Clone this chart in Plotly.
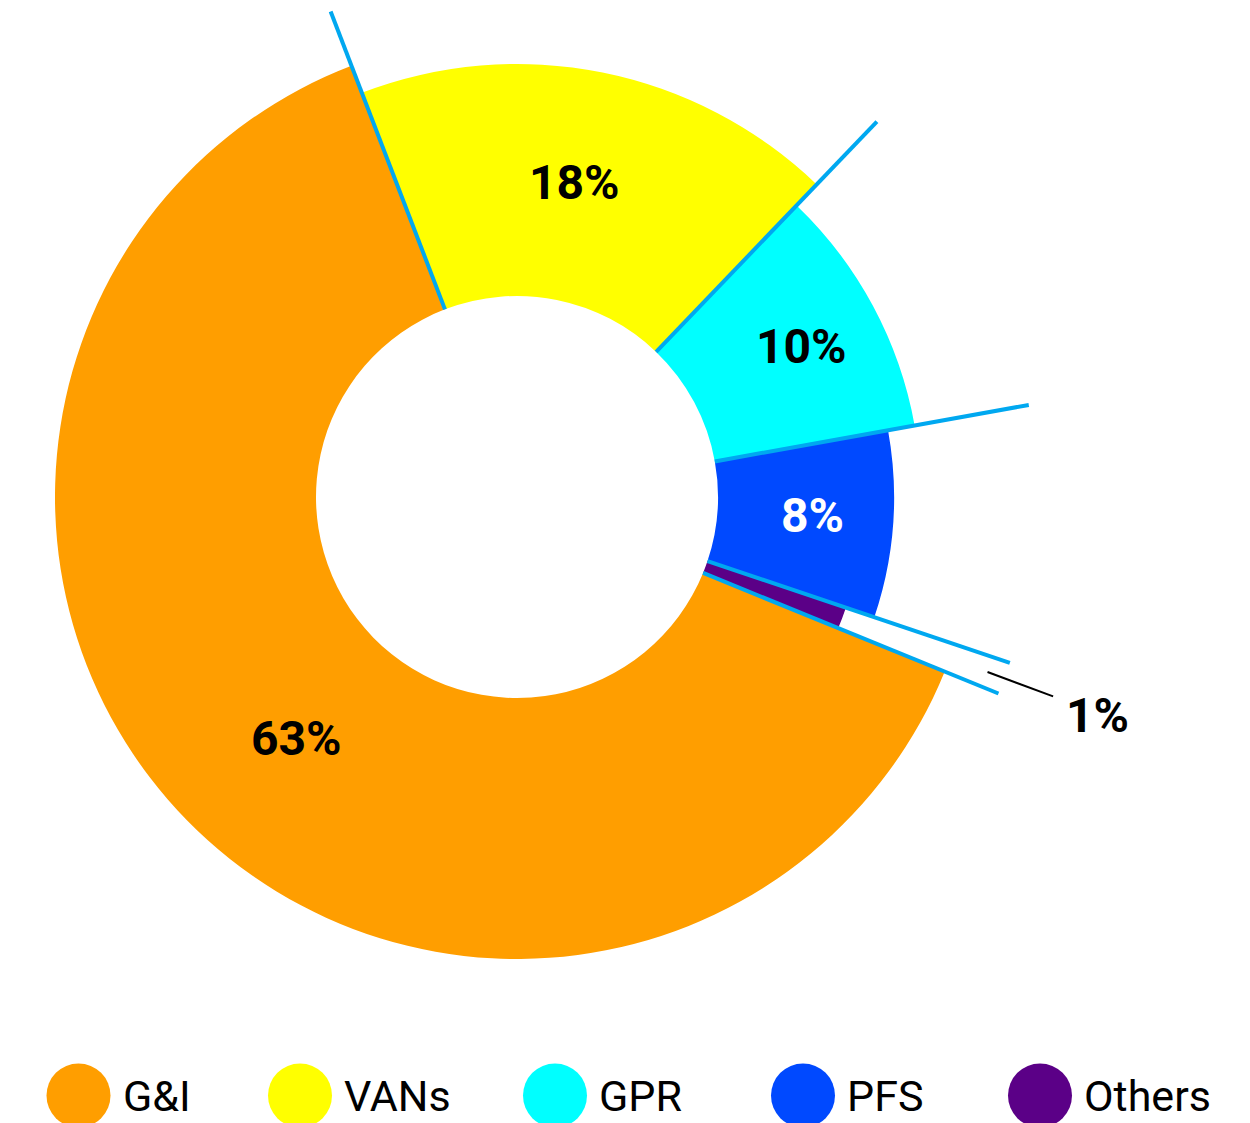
import math
import plotly.graph_objects as go

# Segment shares (percent), in legend order
categories = ["G&I", "VANs", "GPR", "PFS", "Others"]
shares = [63, 18, 10, 8, 1]
labels = ["63%", "18%", "10%", "8%", "1%"]

# Styling per segment
colors = ["#FF9E00", "#FFFF00", "#00FFFF", "#0049FF", "#5B0087"]
label_colors = ["#000000", "#000000", "#000000", "#FFFFFF", "#000000"]
outer_r = [462, 433, 404, 377, 347]          # outer radius of each wedge (px)
label_r = [327, 320, 322, 296, 620]          # radius of each percentage label (px)
label_nudge = [-3.1, -1.1, 0.4, -0.7, 0.2]   # angular nudge of each label (deg)

# Geometry (pixels)
W, H = 1250, 1123
CX, CY = 517, 497          # donut centre
R_DISK = 497               # radius of polar subplot
R_HOLE = 201               # inner radius
R_SEP = 520                # separator lines extend to this radius
START_DEG = 112.2          # leading edge of first segment, clockwise from 12 o'clock
SEP_COLOR = "#00A8F0"

# Legend placement
legend_x = [78.5, 300, 555, 803, 1040]
legend_y = 1095.5

deg_per_unit = 360 / sum(shares)
widths = [s * deg_per_unit for s in shares]
cum = [sum(widths[:i]) for i in range(len(widths))]
mids = [c + w / 2 for c, w in zip(cum, widths)]


def to_px(r, ang):
    """Clockwise-from-top angle (deg) relative to START_DEG -> paper pixel coords."""
    a = math.radians(START_DEG + ang)
    return CX + r * math.sin(a), CY - r * math.cos(a)


fig = go.Figure()

# Donut wedges
for i, cat in enumerate(categories):
    fig.add_trace(go.Barpolar(
        r=[outer_r[i] - R_HOLE], base=[R_HOLE], theta=[mids[i]], width=[widths[i]],
        marker=dict(color=colors[i], line=dict(width=0)),
        name=cat, showlegend=False, hoverinfo="skip",
    ))

# Legend dots on a pixel-space cartesian layer
fig.add_trace(go.Scatter(
    x=legend_x, y=[legend_y] * len(legend_x), mode="markers",
    marker=dict(size=64, color=colors, line=dict(width=0)),
    showlegend=False, hoverinfo="skip",
))

shapes = []
# Separator lines at every segment boundary
for i in range(len(shares)):
    x0, y0 = to_px(R_HOLE, cum[i])
    x1, y1 = to_px(R_SEP, cum[i])
    shapes.append(dict(type="line", xref="x", yref="y", x0=x0, y0=y0, x1=x1, y1=y1,
                       line=dict(color=SEP_COLOR, width=4), layer="above"))
    if i == len(shares) - 1:
        pass
# Leader line for the small segment
lx0, ly0 = to_px(502, mids[4])
lx1, ly1 = to_px(572, mids[4])
shapes.append(dict(type="line", xref="x", yref="y", x0=lx0, y0=ly0, x1=lx1, y1=ly1,
                   line=dict(color="#000000", width=2), layer="above"))

annotations = []
for i, lab in enumerate(labels):
    x, y = to_px(label_r[i], mids[i] + label_nudge[i])
    annotations.append(dict(
        x=x, y=y, xref="x", yref="y", text=f"<b>{lab}</b>", showarrow=False,
        xanchor="center", yanchor="middle",
        font=dict(family="Roboto", size=48, color=label_colors[i]),
    ))
for i, cat in enumerate(categories):
    annotations.append(dict(
        x=legend_x[i] + 42, y=legend_y, xref="x", yref="y", text=cat, showarrow=False,
        xanchor="left", yanchor="middle",
        font=dict(family="Roboto", size=43, color="#000000"),
    ))

fig.update_layout(
    width=W, height=H,
    margin=dict(l=0, r=0, t=0, b=0),
    paper_bgcolor="white", plot_bgcolor="rgba(0,0,0,0)",
    showlegend=False,
    xaxis=dict(range=[0, W], domain=[0, 1], visible=False, fixedrange=True),
    yaxis=dict(range=[H, 0], domain=[0, 1], visible=False, fixedrange=True),
    polar=dict(
        domain=dict(x=[(CX - R_DISK) / W, (CX + R_DISK) / W],
                    y=[1 - (CY + R_DISK) / H, 1 - (CY - R_DISK) / H]),
        bgcolor="rgba(0,0,0,0)",
        radialaxis=dict(range=[0, R_DISK], visible=False),
        angularaxis=dict(rotation=90 - START_DEG, direction="clockwise", visible=False),
        bargap=0,
    ),
    shapes=shapes,
    annotations=annotations,
)

fig.write_html("out.html")
